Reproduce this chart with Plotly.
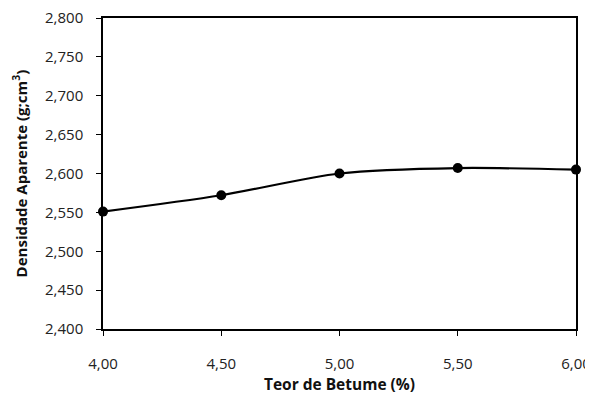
import plotly.graph_objects as go

teor_betume = [4.00, 4.50, 5.00, 5.50, 6.00]
densidade = [2.551, 2.572, 2.600, 2.607, 2.605]

x_ticks = [4.0, 4.5, 5.0, 5.5, 6.0]
x_labels = ["4,00", "4,50", "5,00", "5,50", "6,00"]
y_ticks = [2.40, 2.45, 2.50, 2.55, 2.60, 2.65, 2.70, 2.75, 2.80]
y_labels = ["2,400", "2,450", "2,500", "2,550", "2,600", "2,650", "2,700", "2,750", "2,800"]

fig = go.Figure()
fig.add_trace(go.Scatter(
    x=teor_betume, y=densidade,
    mode="lines+markers",
    line=dict(color="black", width=2.2, shape="spline", smoothing=0.8),
    marker=dict(color="black", size=10),
    showlegend=False,
    cliponaxis=False,
))

font_family = "Open Sans, Liberation Sans, sans-serif"
fig.update_layout(
    width=585, height=387,
    margin=dict(l=95, r=17, t=10, b=66),
    paper_bgcolor="white", plot_bgcolor="white",
    font=dict(family=font_family, size=14, color="#222"),
)
fig.update_xaxes(
    range=[4.0, 6.0], tickvals=x_ticks, ticktext=x_labels,
    showline=True, linecolor="black", linewidth=1.5, mirror=True,
    ticks="outside", ticklen=5, tickcolor="black",
    showgrid=False, zeroline=False, automargin=False,
    ticklabelstandoff=15, ticklabeloverflow="allow",
    tickfont=dict(size=15, color="#222"),
    title=dict(text="<b>Teor de Betume (%)</b>", font=dict(size=15.5, color="#111"), standoff=19),
)
fig.update_yaxes(
    range=[2.40, 2.80], tickvals=y_ticks, ticktext=y_labels,
    showline=True, linecolor="black", linewidth=1.5, mirror=True,
    ticks="outside", ticklen=5, tickcolor="black",
    showgrid=False, zeroline=False, automargin=False,
    ticklabelstandoff=10, ticklabeloverflow="allow",
    tickfont=dict(size=15, color="#222"),
    title=dict(text="<b>Densidade Aparente (g;cm<sup>3</sup>)</b>", font=dict(size=15, color="#111"), standoff=14),
)
fig.write_html("out.html")
